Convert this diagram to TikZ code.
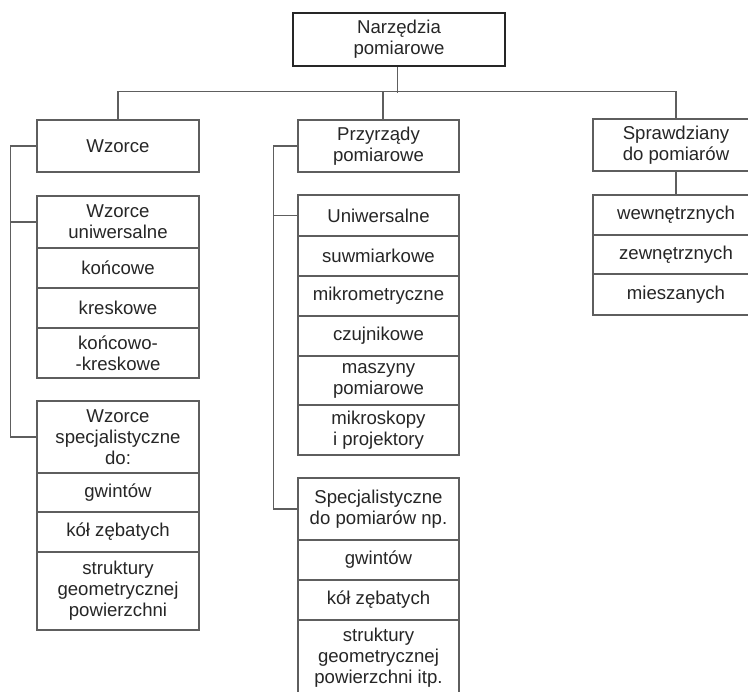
\documentclass[tikz,border=0pt]{standalone}
\usepackage{fontspec}
\setmainfont{Liberation Sans}
\usetikzlibrary{calc}
\definecolor{ln}{HTML}{5E5E5E}
\definecolor{tx}{HTML}{262626}
\begin{document}
\begin{tikzpicture}[x=1pt,y=-1pt,
  cell/.style={draw=ln, line width=1.4pt, rectangle, inner sep=0pt, align=center,
    text=tx, font=\fontsize{18.6}{21}\selectfont},
  topbox/.style={cell, draw=black!85, line width=2.4pt},
  link/.style={draw=ln, line width=1.4pt}]
\useasboundingbox (0,0) rectangle (748,692);
\clip (0,0) rectangle (748,692);
\fill[white] (0,0) rectangle (748,692);
% top
\node[topbox, minimum width=212pt, minimum height=53pt] (top) at (399,39.5) {Narzędzia\\pomiarowe};
% level 1
\node[cell, minimum width=162pt, minimum height=52pt] (wz) at (118,146) {Wzorce};
\node[cell, minimum width=161pt, minimum height=52pt] (pp) at (378.5,146) {Przyrządy\\pomiarowe};
\node[cell, minimum width=166pt, minimum height=52pt] (sp) at (676,145) {Sprawdziany\\do pomiarów};
% Wzorce uniwersalne
\node[cell, minimum width=162pt, minimum height=52pt] (wu) at (118,222) {Wzorce\\uniwersalne};
\node[cell, minimum width=162pt, minimum height=40pt] (wk) at (118,268) {końcowe};
\node[cell, minimum width=162pt, minimum height=40pt] (wkr) at (118,308) {kreskowe};
\node[cell, minimum width=162pt, minimum height=50pt] (wkk) at (118,353) {końcowo-\\-kreskowe};
% Wzorce specjalistyczne
\node[cell, minimum width=162pt, minimum height=72pt] (ws) at (118,437) {Wzorce\\specjalistyczne\\do:};
\node[cell, minimum width=162pt, minimum height=39pt] (wg) at (118,492.5) {gwintów};
\node[cell, minimum width=162pt, minimum height=40pt] (wkz) at (118,532) {kół zębatych};
\node[cell, minimum width=162pt, minimum height=78pt] (wst) at (118,591) {struktury\\geometrycznej\\powierzchni};
% Przyrządy uniwersalne
\node[cell, minimum width=161pt, minimum height=41pt] (pu) at (378.5,215.5) {Uniwersalne};
\node[cell, minimum width=161pt, minimum height=40pt] (psu) at (378.5,256) {suwmiarkowe};
\node[cell, minimum width=161pt, minimum height=40pt] (pm) at (378.5,296) {mikrometryczne};
\node[cell, minimum width=161pt, minimum height=40pt] (pc) at (378.5,336) {czujnikowe};
\node[cell, minimum width=161pt, minimum height=49pt] (pma) at (378.5,380.5) {maszyny\\pomiarowe};
\node[cell, minimum width=161pt, minimum height=50pt] (pmi) at (378.5,430) {mikroskopy\\i projektory};
% Przyrządy specjalistyczne
\node[cell, minimum width=161pt, minimum height=62pt] (psp) at (378.5,509) {Specjalistyczne\\do pomiarów np.};
\node[cell, minimum width=161pt, minimum height=40pt] (pg) at (378.5,560) {gwintów};
\node[cell, minimum width=161pt, minimum height=40pt] (pk) at (378.5,600) {kół zębatych};
\node[cell, minimum width=161pt, minimum height=76pt] (pst) at (378.5,658) {struktury\\geometrycznej\\powierzchni itp.};
% Sprawdziany
\node[cell, minimum width=166pt, minimum height=40pt] (sw) at (676,215) {wewnętrznych};
\node[cell, minimum width=166pt, minimum height=39pt] (sz) at (676,254.5) {zewnętrznych};
\node[cell, minimum width=166pt, minimum height=41pt] (sm) at (676,294.5) {mieszanych};
% connectors
\coordinate (topout) at ($(top.south)+(-1.5,0)$);
\coordinate (ppin) at ($(pp.north)+(4.5,0)$);
\draw[link] (topout) -- ++(0,26);
\draw[link] (wz.north) -- ++(0,-28) -| (sp.north);
\draw[link] (ppin) -- ++(0,-28);
\draw[link] (wz.west) -- ++(-26,0) |- (ws.west);
\draw[link] (wu.west) -- ++(-26,0);
\draw[link] (pp.west) -- ++(-24,0) |- (psp.west);
\draw[link] (pu.west) -- ++(-24,0);
\draw[link] (sp.south) -- (sw.north);
\end{tikzpicture}
\end{document}
